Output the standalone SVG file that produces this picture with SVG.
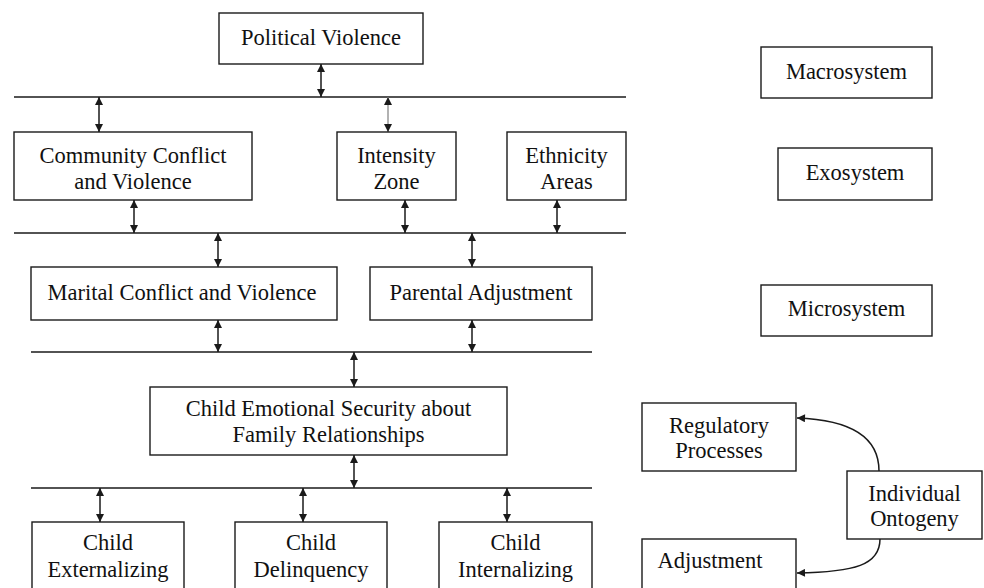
<svg xmlns="http://www.w3.org/2000/svg" width="984" height="588" viewBox="0 0 984 588">
<style>
.box{fill:#fff;stroke:#1a1a1a;stroke-width:1.4}
.t{font-family:"Liberation Serif","Times New Roman",serif;font-size:22.5px;fill:#111;text-anchor:middle}
.ln{stroke:#1a1a1a;stroke-width:1.5;fill:none}
.ar{stroke:#1a1a1a;stroke-width:1.5;fill:none;marker-start:url(#ah);marker-end:url(#ah)}
.cv{stroke:#1a1a1a;stroke-width:1.5;fill:none;marker-end:url(#ah)}
</style>
<defs>
<marker id="ah" viewBox="0 0 10 10" refX="10" refY="5" markerWidth="9" markerHeight="8" markerUnits="userSpaceOnUse" orient="auto-start-reverse">
<path d="M0,0 L10,5 L0,10 z" fill="#1a1a1a"/>
</marker>
</defs>
<rect width="984" height="588" fill="#fff"/>
<g id="connectors">
<line class="ln" x1="14" y1="97" x2="626" y2="97"/>
<line class="ln" x1="14" y1="233" x2="626" y2="233"/>
<line class="ln" x1="31" y1="352" x2="592" y2="352"/>
<line class="ln" x1="31" y1="488" x2="592" y2="488"/>
<line class="ar" x1="321" y1="64" x2="321" y2="97"/>
<line class="ar" x1="99" y1="97" x2="99" y2="132"/>
<line class="ar" x1="388" y1="97" x2="388" y2="132" style="stroke:#999"/>
<line class="ar" x1="134" y1="200" x2="134" y2="233"/>
<line class="ar" x1="405" y1="200" x2="405" y2="233"/>
<line class="ar" x1="557" y1="200" x2="557" y2="233"/>
<line class="ar" x1="218" y1="233" x2="218" y2="267"/>
<line class="ar" x1="472" y1="233" x2="472" y2="267"/>
<line class="ar" x1="218" y1="320" x2="218" y2="352"/>
<line class="ar" x1="472" y1="320" x2="472" y2="352"/>
<line class="ar" x1="354" y1="352" x2="354" y2="387"/>
<line class="ar" x1="354" y1="455" x2="354" y2="488"/>
<line class="ar" x1="100" y1="488" x2="100" y2="522"/>
<line class="ar" x1="303" y1="488" x2="303" y2="522"/>
<line class="ar" x1="507" y1="488" x2="507" y2="522"/>
<path class="cv" d="M879,471 C879,440 855,420 797,418"/>
<path class="cv" d="M880,539 C880,565 855,572 797,573"/>
</g>
<g id="political-violence"><rect class="box" x="219" y="13" width="204" height="51"/><text class="t" x="321" y="45">Political Violence</text></g>
<g id="community-conflict"><rect class="box" x="14" y="132" width="238" height="68"/><text class="t" x="133" y="163">Community Conflict</text><text class="t" x="133" y="189">and Violence</text></g>
<g id="intensity-zone"><rect class="box" x="337" y="132" width="119" height="68"/><text class="t" x="396.5" y="163">Intensity</text><text class="t" x="396.5" y="189">Zone</text></g>
<g id="ethnicity-areas"><rect class="box" x="507" y="132" width="119" height="68"/><text class="t" x="566.5" y="163">Ethnicity</text><text class="t" x="566.5" y="189">Areas</text></g>
<g id="marital-conflict"><rect class="box" x="31" y="267" width="306" height="53"/><text class="t" x="182" y="300">Marital Conflict and Violence</text></g>
<g id="parental-adjustment"><rect class="box" x="370" y="267" width="222" height="53"/><text class="t" x="481" y="300">Parental Adjustment</text></g>
<g id="child-emotional-security"><rect class="box" x="150" y="387" width="357" height="68"/><text class="t" x="328.5" y="416">Child Emotional Security about</text><text class="t" x="328.5" y="442">Family Relationships</text></g>
<g id="child-externalizing"><rect class="box" x="32" y="522" width="152" height="80"/><text class="t" x="108" y="550">Child</text><text class="t" x="108" y="577">Externalizing</text></g>
<g id="child-delinquency"><rect class="box" x="235" y="522" width="152" height="80"/><text class="t" x="311" y="550">Child</text><text class="t" x="311" y="577">Delinquency</text></g>
<g id="child-internalizing"><rect class="box" x="439" y="522" width="153" height="80"/><text class="t" x="515.5" y="550">Child</text><text class="t" x="515.5" y="577">Internalizing</text></g>
<g id="macrosystem"><rect class="box" x="761" y="47" width="171" height="51"/><text class="t" x="846.5" y="79">Macrosystem</text></g>
<g id="exosystem"><rect class="box" x="778" y="148" width="154" height="52"/><text class="t" x="855" y="180">Exosystem</text></g>
<g id="microsystem"><rect class="box" x="761" y="285" width="171" height="51"/><text class="t" x="846.5" y="316">Microsystem</text></g>
<g id="regulatory-processes"><rect class="box" x="642" y="403" width="154" height="68"/><text class="t" x="719" y="433">Regulatory</text><text class="t" x="719" y="458">Processes</text></g>
<g id="individual-ontogeny"><rect class="box" x="847" y="471" width="135" height="68"/><text class="t" x="914.5" y="501">Individual</text><text class="t" x="914.5" y="526">Ontogeny</text></g>
<g id="adjustment"><rect class="box" x="642" y="539" width="154" height="63"/><text class="t" x="710" y="568">Adjustment</text></g>
</svg>
